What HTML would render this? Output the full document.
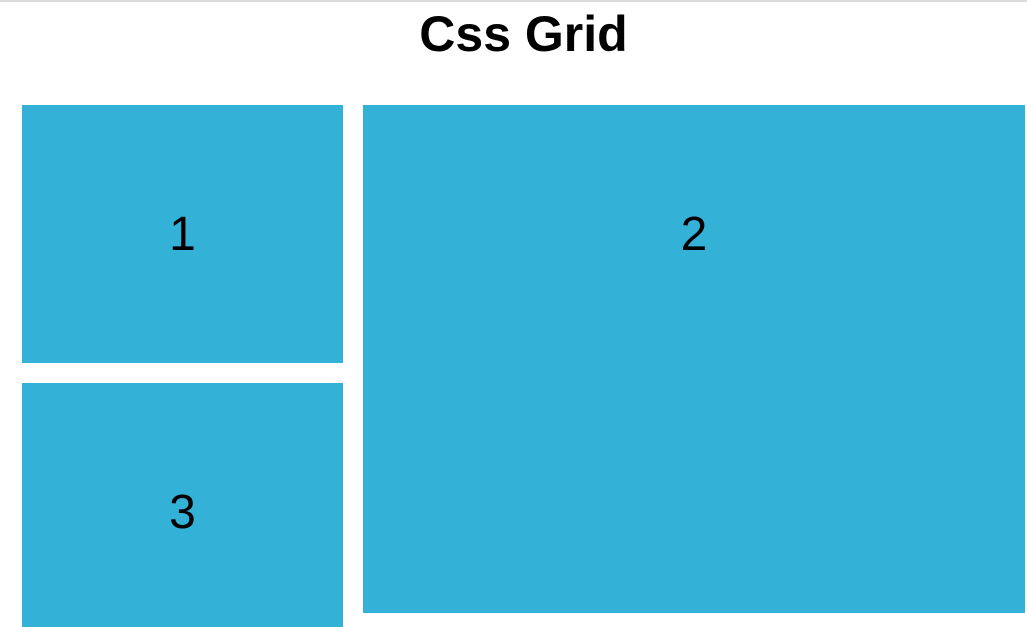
<!DOCTYPE html>
<html><head><meta charset="utf-8"><style>
html,body{margin:0;padding:0;background:#fff;width:1027px;height:627px;overflow:hidden;font-family:"Liberation Sans",Arial,sans-serif}
.topline{position:absolute;left:0;top:0;width:1027px;height:2px;background:#dcdcdc}
h1{position:absolute;left:0;width:1047px;top:6px;margin:0;text-align:center;font-size:50px;font-weight:bold;line-height:56px}
.box{position:absolute;background:#33b1d6;color:#000;font-size:48px;display:flex;justify-content:center}
#b1{left:22px;top:105px;width:321px;height:258px;align-items:center}
#b3{left:22px;top:383px;width:321px;height:244px;align-items:center}
#b2{left:363px;top:105px;width:662px;height:508px;align-items:flex-start}
#b2 span{position:absolute;top:102px}
</style></head><body>
<div class="topline"></div>
<h1>Css Grid</h1>
<div class="box" id="b1"><span>1</span></div>
<div class="box" id="b2"><span>2</span></div>
<div class="box" id="b3"><span style="margin-top:14px">3</span></div>
</body></html>
